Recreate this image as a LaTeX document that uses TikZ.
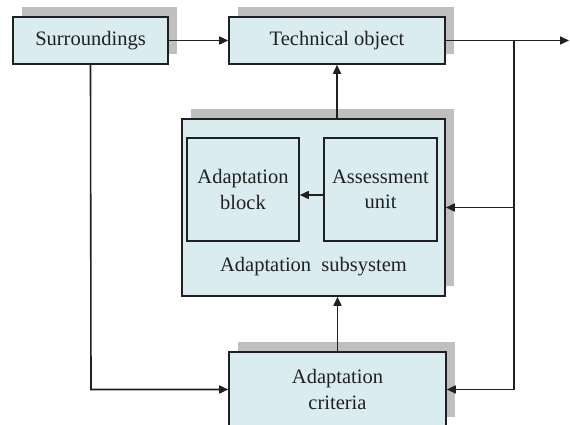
\documentclass[tikz,border=0pt]{standalone}
\usepackage{fontspec}
\setmainfont{Liberation Serif}
\usetikzlibrary{arrows.meta,shadows}
\definecolor{boxfill}{HTML}{DAECF0}
\definecolor{shadowgray}{HTML}{BFBFBF}
\definecolor{linecol}{HTML}{202020}
\tikzset{
  blk/.style={draw=linecol, line width=1.6pt, fill=boxfill, inner sep=0pt, align=center,
    font=\fontsize{20.5}{25.5}\selectfont, text=linecol},
  shad/.style={drop shadow={shadow xshift=9pt, shadow yshift=10pt, fill=shadowgray, opacity=1}},
  conn/.style={draw=linecol, line width=1.6pt},
  arr/.style={conn, -{Triangle[length=9pt,width=8pt]}}
}
\begin{document}
\begin{tikzpicture}[x=1pt,y=-1pt]
\useasboundingbox (0,0) rectangle (570,425);
\node[blk,shad,minimum width=155pt,minimum height=47pt] (sur) at (90.5,40.5) {Surroundings};
\node[blk,shad,minimum width=216pt,minimum height=47pt] (to) at (337,40.5) {Technical object};
\node[blk,shad,minimum width=263pt,minimum height=177pt] (ss) at (313.5,207.5) {};
\node[blk,minimum width=112pt,minimum height=103pt] (ab) at (243,189.5) {Adaptation\\block};
\node[blk,minimum width=113pt,minimum height=103pt] (au) at (380.5,189.5) {Assessment\\unit};
\node[font=\fontsize{20.5}{25.5}\selectfont, text=linecol, anchor=base] (sl) at (313.5,271) {Adaptation\ \ subsystem};
\node[blk,shad,minimum width=217pt,minimum height=75pt] (ac) at (337.5,389.5) {Adaptation\\criteria};
\coordinate (out) at (569,40.5);
\coordinate (br) at (514,40.5);
\coordinate (bm) at (514,207.5);
\coordinate (bb) at (514,389.5);
\coordinate (sl1) at (91,389.5);
% connectors
\draw[arr] (sur.east) -- (to.west);
\draw[arr] (to.east) -- (out);
\draw[conn] (br) -- (bb);
\draw[arr] (bm) -- (ss.east);
\draw[arr] (bb) -- (ac.east);
\draw[arr] (sur.south) -- (sl1) -- (ac.west);
\draw[arr] (ss.north -| to.south) -- (to.south);
\draw[arr] (ac.north) -- (ss.south -| ac.north);
\draw[arr] ([yshift=-5.5pt]au.west) -- ([yshift=-5.5pt]ab.east);
\end{tikzpicture}
\end{document}
